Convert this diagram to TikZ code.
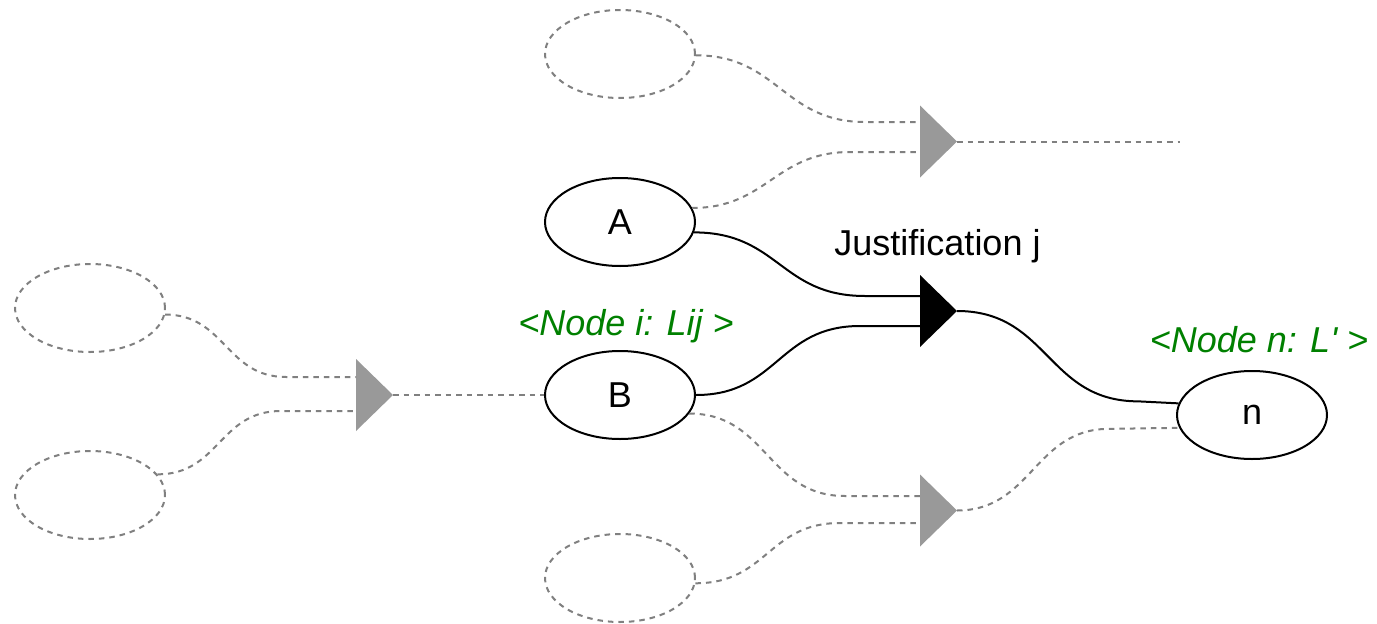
\documentclass[tikz,border=0pt]{standalone}
\usepackage{fontspec}
\setmainfont{Liberation Sans}
\usetikzlibrary{shapes.geometric,calc}
\definecolor{linkgray}{HTML}{808080}
\definecolor{trigray}{HTML}{999999}
\definecolor{labelgreen}{HTML}{008000}

\begin{document}
\begin{tikzpicture}[x=1pt,y=-1pt,
  every node/.style={font=\fontsize{36}{43}\selectfont},
  belief/.style={ellipse, draw=black, line width=2pt, minimum width=150pt,
    minimum height=88pt, inner sep=0pt},
  ghost/.style={ellipse, draw=linkgray, line width=2pt,
    dash pattern=on 5.5pt off 5pt, minimum width=150pt, minimum height=88pt,
    inner sep=0pt},
  just/.style={isosceles triangle, isosceles triangle stretches,
    minimum width=72pt, minimum height=37pt, inner sep=0pt, outer sep=0pt,
    draw=none, fill=black},
  ghostjust/.style={just, fill=trigray},
  link/.style={line width=2pt, draw=black},
  ghostlink/.style={line width=2pt, draw=linkgray, dash pattern=on 5.5pt off 5pt},
  note/.style={text=labelgreen, font=\fontsize{36}{43}\selectfont\itshape, anchor=base}
]
\useasboundingbox (0,0) rectangle (1377,624);
\fill[white] (0,0) rectangle (1377,624);

% belief nodes
\node[ghost]  (gt)  at (620,54)   {};
\node[belief] (A)   at (620,222)  {A};
\node[belief] (B)   at (620,395)  {B};
\node[ghost]  (gb)  at (620,578)  {};
\node[ghost]  (gl1) at (90,308)   {};
\node[ghost]  (gl2) at (90,495)   {};
\node[belief] (n)   at (1252,415) {n};

% justifications
\node[ghostjust, anchor=apex] (tt) at (957,141.5) {};
\node[just,      anchor=apex] (tj) at (957,311)   {};
\node[ghostjust, anchor=apex] (tl) at (393,395)   {};
\node[ghostjust, anchor=apex] (tb) at (957,510.5) {};
\coordinate (out) at (1180,141.5);

% labels
\node[anchor=base] (jl) at (937.5,255) {Justification j};
\node[note] (li) at (626,335)  {<Node i: Lij >};
\node[note] (ln) at (1259,352) {<Node n: L\textquotesingle{} >};

% antecedents of the left justification
\draw[ghostlink] (gl1.-5) .. controls +(60,0) and +(-60,0) ..
  ($(tl.lower side)+(-70,-18)$) -- ($(tl.lower side)+(0,-18)$);
\draw[ghostlink] (gl2.17) .. controls +(62,0) and +(-62,0) ..
  ($(tl.lower side)+(-75,16)$) -- ($(tl.lower side)+(0,16)$);
\draw[ghostlink] (tl.apex) -- (B.180);

% top justification
\draw[ghostlink] (gt.-1) .. controls +(82,0) and +(-82,0) ..
  ($(tt.lower side)+(-55,-19.5)$) -- ($(tt.lower side)+(0,-19.5)$);
\draw[ghostlink] (A.11) .. controls +(75,0) and +(-75,0) ..
  ($(tt.lower side)+(-70,10.5)$) -- ($(tt.lower side)+(0,10.5)$);
\draw[ghostlink] (tt.apex) -- (out);

% justification j
\draw[link] (A.-8) .. controls +(85,0) and +(-85,0) ..
  ($(tj.lower side)+(-55,-15)$) -- ($(tj.lower side)+(0,-15)$);
\draw[link] (B.0) .. controls +(82,0) and +(-82,0) ..
  ($(tj.lower side)+(-60,15)$) -- ($(tj.lower side)+(0,15)$);
\draw[link] (tj.apex) .. controls +(92,0) and +(-92,0) ..
  ($(n.171)+(-40,-2)$) -- (n.171);

% bottom justification
\draw[ghostlink] (B.-15) .. controls +(78,0) and +(-78,0) ..
  ($(tb.lower side)+(-75,-14.5)$) -- ($(tb.lower side)+(0,-14.5)$);
\draw[ghostlink] (gb.-4) .. controls +(72,0) and +(-72,0) ..
  ($(tb.lower side)+(-80,12.5)$) -- ($(tb.lower side)+(0,12.5)$);
\draw[ghostlink] (tb.apex) .. controls +(75,0) and +(-75,0) ..
  ($(n.190)+(-70,1)$) -- (n.190);
\end{tikzpicture}
\end{document}
